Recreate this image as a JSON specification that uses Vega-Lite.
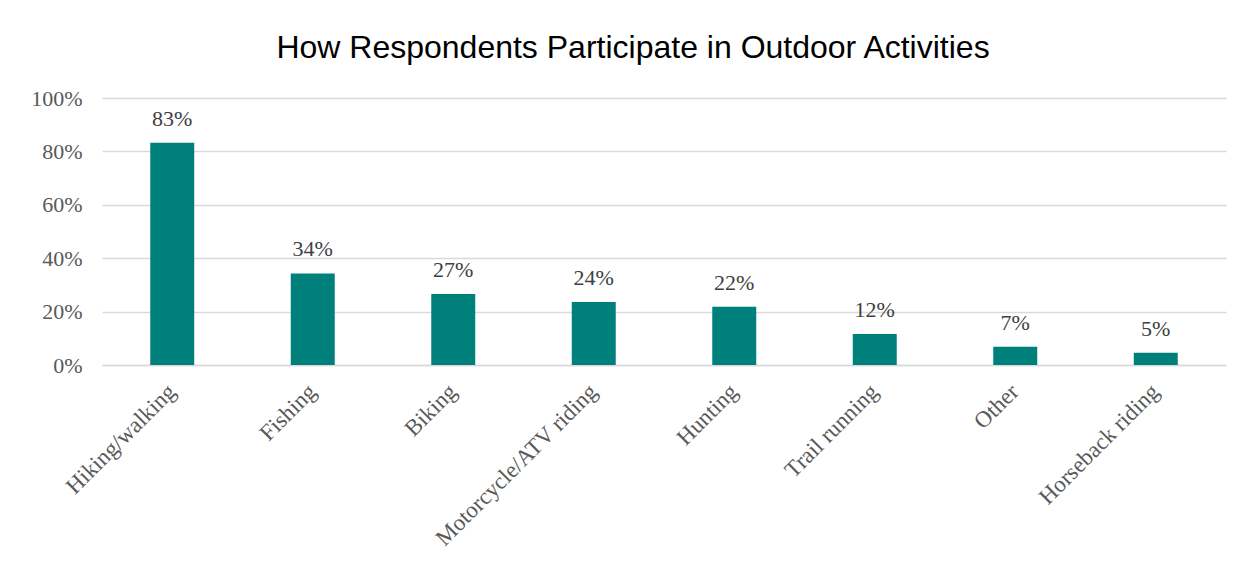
{
  "$schema": "https://vega.github.io/schema/vega-lite/v6.json",
  "width": 1124,
  "height": 267,
  "autosize": {"type": "none"},
  "padding": {"left": 102, "top": 98, "right": 26, "bottom": 204},
  "background": "white",
  "config": {"view": {"stroke": null}},
  "title": {
    "text": "How Respondents Participate in Outdoor Activities",
    "font": "Liberation Sans",
    "fontSize": 32,
    "fontWeight": "normal",
    "color": "#000000",
    "anchor": "middle",
    "dx": -31,
    "offset": 22
  },
  "data": {
    "values": [
      {"activity": "Hiking/walking", "share": 0.832},
      {"activity": "Fishing", "share": 0.343},
      {"activity": "Biking", "share": 0.266},
      {"activity": "Motorcycle/ATV riding", "share": 0.236},
      {"activity": "Hunting", "share": 0.218},
      {"activity": "Trail running", "share": 0.116},
      {"activity": "Other", "share": 0.068},
      {"activity": "Horseback riding", "share": 0.046}
    ]
  },
  "encoding": {
    "x": {
      "field": "activity",
      "type": "nominal",
      "sort": null,
      "scale": {"paddingInner": 0.687, "paddingOuter": 0.3435},
      "axis": {
        "title": null,
        "labelAngle": -45,
        "labelFont": "Liberation Serif",
        "labelFontSize": 23,
        "labelColor": "#595959",
        "labelPadding": 15,
        "labelOffset": -8,
        "ticks": false,
        "domainColor": "#d9d9d9",
        "domainWidth": 1.5,
        "labelLimit": 400
      }
    },
    "y": {
      "field": "share",
      "type": "quantitative",
      "scale": {"domain": [0, 1]},
      "axis": {
        "title": null,
        "format": ".0%",
        "values": [0, 0.2, 0.4, 0.6, 0.8, 1],
        "labelFont": "Liberation Serif",
        "labelFontSize": 22,
        "labelColor": "#595959",
        "labelPadding": 20,
        "ticks": false,
        "domain": false,
        "gridColor": "#d9d9d9",
        "gridWidth": 1.5
      }
    }
  },
  "layer": [
    {"mark": {"type": "bar", "color": "#00807A"}},
    {
      "mark": {
        "type": "text",
        "dy": -24,
        "font": "Liberation Serif",
        "fontSize": 22,
        "color": "#404040"
      },
      "encoding": {"text": {"field": "share", "type": "quantitative", "format": ".0%"}}
    }
  ]
}
